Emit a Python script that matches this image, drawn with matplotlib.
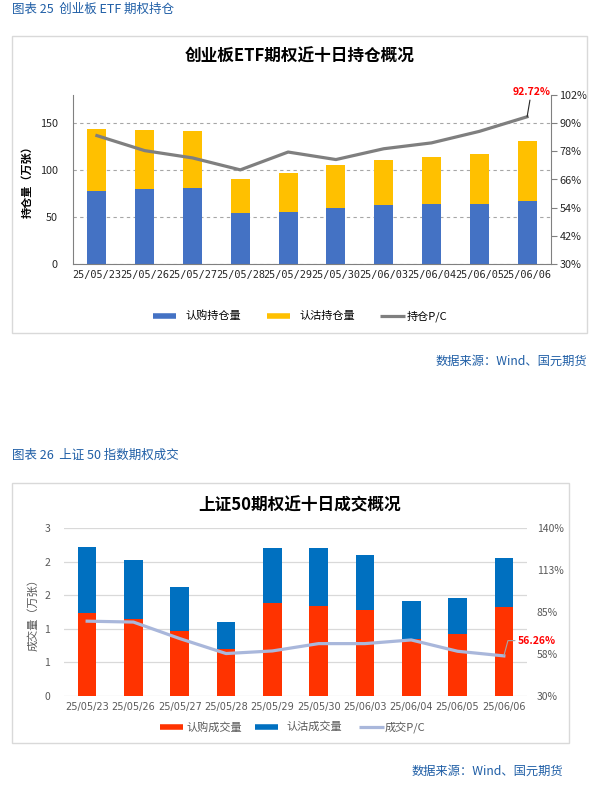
import matplotlib
matplotlib.use('Agg')
import matplotlib.pyplot as plt
from matplotlib.lines import Line2D
from matplotlib.patches import Rectangle

plt.rcParams['font.family'] = ['Noto Sans CJK SC', 'DejaVu Sans']

W, H = 590, 790

# ---- data: 创业板ETF期权持仓 ----
dates = ['25/05/23', '25/05/26', '25/05/27', '25/05/28', '25/05/29',
         '25/05/30', '25/06/03', '25/06/04', '25/06/05', '25/06/06']
call_oi = [78.0, 80.1, 81.2, 53.9, 55.0, 59.9, 62.4, 63.5, 63.5, 67.4]
put_oi = [66.0, 62.8, 60.6, 36.9, 42.2, 45.8, 48.6, 50.7, 53.9, 63.8]
oi_pc = [84.7, 78.3, 75.2, 70.1, 77.7, 74.5, 79.1, 81.6, 86.5, 92.72]

# ---- data: 上证50期权成交 ----
call_vol = [1.238, 1.139, 0.970, 0.698, 1.386, 1.342, 1.282, 0.847, 0.926, 1.317]
put_vol = [0.980, 0.886, 0.654, 0.406, 0.817, 0.861, 0.817, 0.569, 0.534, 0.737]
vol_pc = [79.0, 78.4, 67.6, 57.8, 59.5, 64.3, 64.3, 66.7, 59.3, 56.26]
vol_ticks = [0, 0.5, 1, 1.5, 2, 2.5]
vol_tick_labels = ['0', '1', '1', '2', '2', '3']
vol_pc_ticks = [30, 57.5, 85, 112.5, 140]
vol_pc_labels = ['30%', '58%', '85%', '113%', '140%']


def rect(x0, y0, x1, y1):
    return [x0 / W, 1 - y1 / H, (x1 - x0) / W, (y1 - y0) / H]


def ftext(x, y, s, **kw):
    fig.text(x / W, 1 - y / H, s, **kw)


def fline(x0, x1, y, color, lw):
    fig.add_artist(Line2D([x0 / W, x1 / W], [1 - y / H, 1 - y / H],
                          transform=fig.transFigure, color=color, lw=lw,
                          solid_capstyle='butt'))


def fbox(x0, y0, x1, y1):
    fig.add_artist(Rectangle((x0 / W, 1 - y1 / H), (x1 - x0) / W, (y1 - y0) / H,
                             transform=fig.transFigure, fill=False,
                             edgecolor='#d9d9d9', lw=1.0))


fig = plt.figure(figsize=(W / 100, H / 100), dpi=100)
fig.patch.set_facecolor('white')

cap_blue = '#1f5ea6'
x = list(range(len(dates)))

# =================== chart 25 ===================
ftext(12, 9, '图表 25  创业板 ETF 期权持仓', color=cap_blue, fontsize=9, va='center')
fbox(12, 36, 587, 333)
ftext(300, 57, '创业板ETF期权近十日持仓概况', fontsize=12, fontweight='bold',
      ha='center', va='center')

ax1 = fig.add_axes(rect(73, 95, 551, 264))
ax1.bar(x, call_oi, width=0.4, color='#4472c4', zorder=2)
ax1.bar(x, put_oi, width=0.4, bottom=call_oi, color='#ffc000', zorder=2)
ax1.set_xlim(-0.5, 9.5)
ax1.set_ylim(0, 180)
ax1.set_yticks([0, 50, 100, 150])
ax1.yaxis.grid(True, linestyle=(0, (3, 3)), color='#a6a6a6', lw=0.8)
ax1.set_axisbelow(True)
ax1.set_xticks(x)
ax1.set_xticklabels(dates, family='DejaVu Sans Mono', fontsize=7.4)
ax1.tick_params(axis='x', length=0, pad=4, colors='#262626')
ax1.tick_params(axis='y', length=0, pad=11, labelsize=7.8, colors='#262626')
for s in ['top', 'right']:
    ax1.spines[s].set_visible(False)
for s in ['left', 'bottom']:
    ax1.spines[s].set_color('#808080')
ax1.set_ylabel('持仓量（万张）', fontsize=8, fontweight='bold')
ax1.yaxis.set_label_coords(-0.083, 0.5)

ax1r = ax1.twinx()
ax1r.plot(x, oi_pc, color='#7f7f7f', lw=2.3, zorder=3)
ax1r.set_ylim(30, 102)
ax1r.set_yticks([30, 42, 54, 66, 78, 90, 102])
ax1r.set_yticklabels(['%d%%' % v for v in [30, 42, 54, 66, 78, 90, 102]])
ax1r.tick_params(axis='y', length=4, width=0.8, color='#808080', pad=2,
                 labelsize=7.8, colors='#262626')
for s in ['top', 'left', 'bottom']:
    ax1r.spines[s].set_visible(False)
ax1r.spines['right'].set_color('#808080')
ax1r.annotate('%.2f%%' % oi_pc[-1], xy=(x[-1], oi_pc[-1]), xytext=(3, 14),
              textcoords='offset points', color='#ff0000', fontsize=7.5,
              fontweight='bold', ha='center', va='bottom',
              arrowprops=dict(arrowstyle='-', color='#262626', lw=0.8,
                              shrinkA=0, shrinkB=0))

fline(153, 176, 316, '#4472c4', 4)
ftext(185, 316, '认购持仓量', fontsize=8, va='center')
fline(267, 290, 316, '#ffc000', 4)
ftext(299, 316, '认沽持仓量', fontsize=8, va='center')
fline(380, 405, 316, '#7f7f7f', 2.3)
ftext(407, 316, '持仓P/C', fontsize=8, va='center')

ftext(587, 361, '数据来源：Wind、国元期货', color=cap_blue, fontsize=8.8,
      ha='right', va='center', fontweight='medium')

# =================== chart 26 ===================
ftext(12, 455, '图表 26  上证 50 指数期权成交', color=cap_blue, fontsize=9, va='center')
fbox(12, 483, 569, 743)
ftext(300, 505, '上证50期权近十日成交概况', fontsize=12, fontweight='bold',
      ha='center', va='center')

ax2 = fig.add_axes(rect(64, 528, 527, 696))
ax2.bar(x, call_vol, width=0.4, color='#ff3300', zorder=2)
ax2.bar(x, put_vol, width=0.4, bottom=call_vol, color='#0070c0', zorder=2)
ax2.set_xlim(-0.5, 9.5)
ax2.set_ylim(0, 2.5)
ax2.set_yticks(vol_ticks)
ax2.set_yticklabels(vol_tick_labels)
ax2.yaxis.grid(True, color='#d9d9d9', lw=0.9)
ax2.set_axisbelow(True)
ax2.set_xticks(x)
ax2.set_xticklabels(dates, family='DejaVu Sans', fontsize=7)
ax2.tick_params(axis='x', length=0, pad=4, colors='#595959')
ax2.tick_params(axis='y', length=0, pad=10, labelsize=7.5, colors='#595959')
for s in ax2.spines.values():
    s.set_visible(False)
ax2.set_ylabel('成交量（万张）', fontsize=8, color='#595959')
ax2.yaxis.set_label_coords(-0.055, 0.5)

ax2r = ax2.twinx()
ax2r.plot(x, vol_pc, color='#a9b7db', lw=2.3, zorder=3)
ax2r.set_ylim(30, 140)
ax2r.set_yticks(vol_pc_ticks)
ax2r.set_yticklabels(vol_pc_labels)
ax2r.tick_params(axis='y', length=0, pad=7, labelsize=7.5, colors='#595959')
for s in ax2r.spines.values():
    s.set_visible(False)
ax2r.annotate('%.2f%%' % vol_pc[-1], xy=(x[-1], vol_pc[-1]), xytext=(10, 11),
              textcoords='offset points', color='#ff0000', fontsize=7.5,
              fontweight='bold', ha='left', va='center',
              arrowprops=dict(arrowstyle='-', color='#a6a6a6', lw=0.8,
                              shrinkA=0, shrinkB=0,
                              connectionstyle='angle,angleA=0,angleB=75,rad=0'))

fline(160, 183, 727, '#ff3300', 4)
ftext(186, 727, '认购成交量', fontsize=8, va='center', color='#595959')
fline(255, 278, 727, '#0070c0', 4)
ftext(286, 727, '认沽成交量', fontsize=8, va='center', color='#595959')
fline(359, 384, 727, '#a9b7db', 2.3)
ftext(385, 727, '成交P/C', fontsize=8, va='center', color='#595959')

ftext(563, 771, '数据来源：Wind、国元期货', color=cap_blue, fontsize=8.8,
      ha='right', va='center', fontweight='medium')

fig.savefig('out.png', dpi=100)
